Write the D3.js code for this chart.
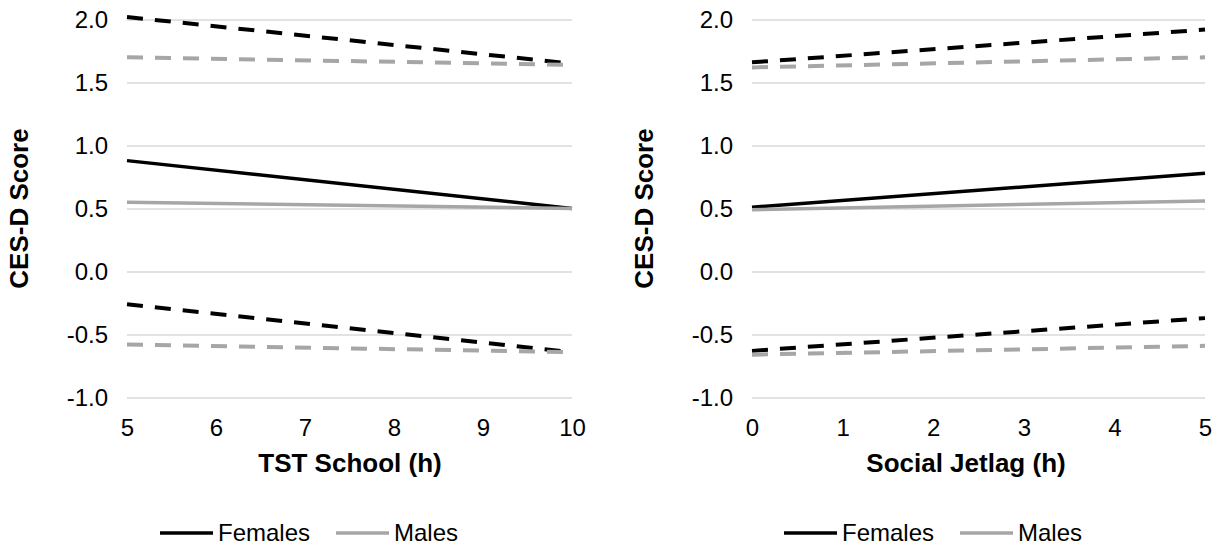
<!DOCTYPE html>
<html>
<head>
<meta charset="utf-8">
<script src="https://cdn.jsdelivr.net/npm/d3@7"></script>
<style>
    body { margin: 0; background: #fff; }
    svg { display: block; font-family: 'Liberation Sans', Arial, sans-serif; }
</style>
</head>
<body>
<script>
// TST School panel
let tstHours = [5, 10];
let tstFemales = [0.88, 0.50];
let tstFemalesUpper = [2.02, 1.65];
let tstFemalesLower = [-0.26, -0.64];
let tstMales = [0.55, 0.50];
let tstMalesUpper = [1.70, 1.64];
let tstMalesLower = [-0.58, -0.64];
let tstTicks = [5, 6, 7, 8, 9, 10];

// Social jetlag panel
let sjlHours = [0, 5];
let sjlFemales = [0.51, 0.78];
let sjlFemalesUpper = [1.66, 1.92];
let sjlFemalesLower = [-0.63, -0.37];
let sjlMales = [0.49, 0.56];
let sjlMalesUpper = [1.62, 1.70];
let sjlMalesLower = [-0.66, -0.59];
let sjlTicks = [0, 1, 2, 3, 4, 5];

let yTicks = [-1.0, -0.5, 0.0, 0.5, 1.0, 1.5, 2.0];
let legendLabels = ['Females', 'Males'];

let width = 1228, height = 546;
let femaleColor = '#000000', maleColor = '#a6a6a6';

let svg = d3.select('body').append('svg')
    .attr('width', width)
    .attr('height', height);

let y = d3.scaleLinear()
    .domain([-1, 2])
    .range([397.5, 19.5]);

function panel(opts) {
    let g = svg.append('g');
    let x = d3.scaleLinear()
        .domain(d3.extent(opts.xs))
        .range([opts.left, opts.right]);

    // gridlines
    g.append('g')
        .attr('transform', `translate(${opts.left}, 0)`)
        .call(d3.axisLeft(y).tickValues(yTicks).tickSize(-(opts.right - opts.left)).tickFormat(''))
        .call(a => a.select('.domain').remove())
        .selectAll('line')
        .attr('stroke', '#d9d9d9')
        .attr('stroke-width', 1.5);

    // y tick labels (plain hyphen for negatives, like the original)
    g.append('g')
        .attr('transform', `translate(${opts.left}, 0)`)
        .call(d3.axisLeft(y).tickValues(yTicks).tickSize(0).tickPadding(19).tickFormat(d => d.toFixed(1)))
        .call(a => a.select('.domain').remove())
        .selectAll('text')
        .attr('font-size', 24)
        .attr('font-family', "'Liberation Sans', Arial, sans-serif")
        .attr('fill', '#000');

    // x tick labels
    g.append('g')
        .attr('transform', `translate(0, ${y(-1)})`)
        .call(d3.axisBottom(x).tickValues(opts.ticks).tickSize(0).tickPadding(21).tickFormat(d => String(d)))
        .call(a => a.select('.domain').remove())
        .selectAll('text')
        .attr('font-size', 24)
        .attr('font-family', "'Liberation Sans', Arial, sans-serif")
        .attr('fill', '#000');

    let line = d3.line()
        .x((d, i) => x(opts.xs[i]))
        .y(d => y(d));

    let series = [
        {values: opts.females, color: femaleColor, dash: null, w: 3.5},
        {values: opts.femalesUpper, color: femaleColor, dash: '16,12', w: 4},
        {values: opts.femalesLower, color: femaleColor, dash: '16,12', w: 4},
        {values: opts.males, color: maleColor, dash: null, w: 3.5},
        {values: opts.malesUpper, color: maleColor, dash: '16,12', w: 4},
        {values: opts.malesLower, color: maleColor, dash: '16,12', w: 4}
    ];

    g.selectAll('.series').data(series).enter().append('path')
        .attr('class', 'series')
        .attr('d', d => line(d.values))
        .attr('fill', 'none')
        .attr('stroke', d => d.color)
        .attr('stroke-width', d => d.w)
        .attr('stroke-dasharray', d => d.dash);

    // axis titles
    g.append('text')
        .attr('x', opts.titleX)
        .attr('y', 472)
        .attr('text-anchor', 'middle')
        .attr('font-size', 26)
        .attr('font-weight', 'bold')
        .text(opts.title);

    g.append('text')
        .attr('transform', `translate(${opts.yTitleX}, ${y(0.5)}) rotate(-90)`)
        .attr('text-anchor', 'middle')
        .attr('dy', '0.35em')
        .attr('font-size', 26)
        .attr('font-weight', 'bold')
        .text('CES-D Score');

    // legend
    let legend = g.selectAll('.legend').data(legendLabels).enter().append('g')
        .attr('class', 'legend')
        .attr('transform', (d, i) => `translate(${opts.legendX + i * 176}, 533)`);
    legend.append('line')
        .attr('x1', 0).attr('x2', 53)
        .attr('stroke', (d, i) => i === 0 ? femaleColor : maleColor)
        .attr('stroke-width', 3.5);
    legend.append('text')
        .attr('x', 58)
        .attr('dy', '0.35em')
        .attr('font-size', 24)
        .text(d => d);
}

panel({
    left: 127, right: 572, xs: tstHours, ticks: tstTicks,
    females: tstFemales, femalesUpper: tstFemalesUpper, femalesLower: tstFemalesLower,
    males: tstMales, malesUpper: tstMalesUpper, malesLower: tstMalesLower,
    title: 'TST School (h)', titleX: 350, yTitleX: 19, legendX: 160
});

panel({
    left: 752, right: 1205, xs: sjlHours, ticks: sjlTicks,
    females: sjlFemales, femalesUpper: sjlFemalesUpper, femalesLower: sjlFemalesLower,
    males: sjlMales, malesUpper: sjlMalesUpper, malesLower: sjlMalesLower,
    title: 'Social Jetlag (h)', titleX: 966, yTitleX: 644, legendX: 784
});
</script>
</body>
</html>
